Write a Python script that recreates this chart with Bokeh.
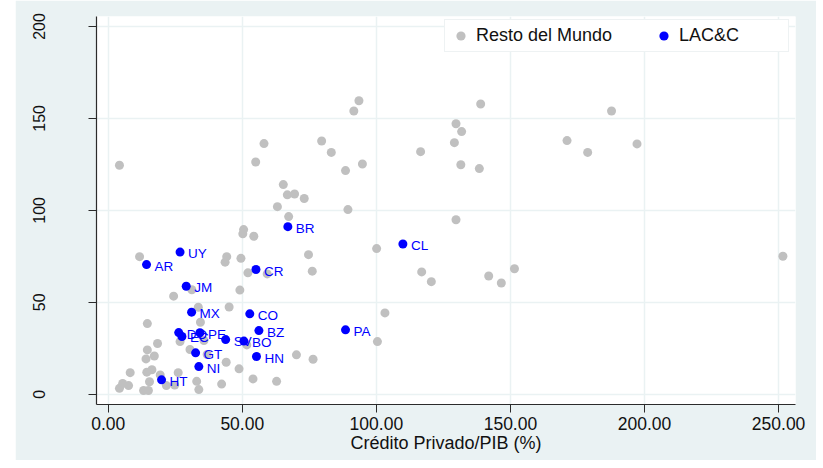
from bokeh.plotting import figure
from bokeh.models import (ColumnDataSource, LabelSet, Legend, LegendItem, FixedTicker,
                          PrintfTickFormatter, Range1d, Spacer)
from bokeh.core.properties import value
from bokeh.layouts import row
from bokeh.embed import file_html
from bokeh.resources import INLINE

# ---- data ----
rest_x = [4.2, 58.1, 55.0, 79.6, 83.2, 88.5, 94.8, 91.6, 93.5, 65.3, 66.8, 69.5, 73.1, 63.1,
          67.3, 89.4, 50.5, 50.2, 54.3, 116.5, 138.9, 129.7, 131.8, 129.1, 131.5, 138.4, 187.7,
          171.1, 178.8, 197.2, 129.7, 116.9, 120.5, 141.9, 146.6, 151.5, 251.6, 11.7, 44.2, 43.6,
          49.5, 74.7, 100.1, 52.1, 59.3, 76.1, 31.2, 24.4, 49.1, 103.2, 33.6, 45.1, 34.4, 14.6,
          100.4, 26.8, 18.4, 14.6, 17.2, 14.1, 30.5, 8.2, 14.4, 16.3, 19.4, 26.1, 5.4, 4.2, 7.6,
          13.2, 15.0, 15.4, 21.7, 24.8, 33.0, 33.8, 36.9, 44.0, 42.3, 48.8, 54.0, 62.8, 51.7,
          70.2, 76.4, 35.7]
rest_y = [124.5, 136.3, 126.3, 137.7, 131.5, 121.6, 125.2, 154.0, 159.6, 114.0, 108.4, 108.9,
          106.4, 102.0, 96.6, 100.4, 89.5, 87.2, 85.9, 131.9, 157.8, 147.1, 142.8, 136.8, 124.8,
          122.7, 154.0, 137.9, 131.5, 136.1, 94.9, 66.5, 61.2, 64.3, 60.5, 68.2, 75.0, 74.8, 74.8,
          71.8, 73.9, 75.9, 79.2, 66.0, 65.4, 66.9, 56.8, 53.3, 56.6, 44.2, 47.3, 47.4, 39.1, 38.4,
          28.6, 28.6, 27.6, 24.1, 20.8, 19.2, 24.3, 11.7, 12.0, 13.3, 10.5, 11.7, 5.8, 3.2, 4.7,
          2.0, 2.0, 6.8, 4.7, 5.0, 7.0, 2.5, 21.6, 17.4, 5.5, 13.8, 8.3, 7.0, 26.8, 21.4, 19.0,
          29.2]

lac_codes = ["BR", "CL", "UY", "AR", "CR", "JM", "MX", "CO", "DO", "PE", "EC", "BZ", "PA",
             "SV", "BO", "GT", "HN", "NI", "HT"]
lac_x = [67.0, 109.9, 26.8, 14.3, 55.1, 29.1, 31.1, 52.8, 26.3, 34.2, 27.5, 56.2, 88.5,
         43.8, 50.6, 32.6, 55.3, 33.8, 19.9]
lac_y = [91.1, 81.7, 77.3, 70.5, 67.8, 58.7, 44.6, 43.7, 33.5, 33.4, 31.4, 34.6, 35.0,
         29.7, 28.9, 22.5, 20.5, 15.0, 7.8]

x_ticks = [0, 50, 100, 150, 200, 250]
y_ticks = [0, 50, 100, 150, 200]
x_title = "Crédito Privado/PIB (%)"
legend_labels = ["Resto del Mundo", "LAC&C"]

BG = "#EAF2F3"
FONT = "Liberation Sans"

p = figure(width=801, height=460, output_backend="svg", toolbar_location=None,
           x_range=Range1d(-4.36, 256.3), y_range=Range1d(-5.6, 205.4),
           min_border_left=81, min_border_right=21, min_border_top=16, min_border_bottom=56)
p.background_fill_color = "white"
p.border_fill_color = BG
p.outline_line_color = None

r_rest = p.scatter(rest_x, rest_y, size=9, color="#C0C0C0", line_color=None)
lac_src = ColumnDataSource(dict(x=lac_x, y=lac_y, code=lac_codes))
r_lac = p.scatter("x", "y", source=lac_src, size=9, color="#0000FF", line_color=None)

labels = LabelSet(x="x", y="y", text="code", source=lac_src, x_offset=8, y_offset=-1.5,
                  text_color="#0000FF", text_font=value(FONT), text_font_size="13.5px",
                  text_baseline="middle", text_align="left")
p.add_layout(labels)

# axes
for ax in (p.xaxis, p.yaxis):
    ax.axis_line_color = "#2b2b2b"
    ax.axis_line_width = 1.2
    ax.major_tick_line_color = "#2b2b2b"
    ax.major_tick_out = 8
    ax.major_tick_in = 0
    ax.minor_tick_line_color = None
    ax.major_label_text_font = FONT
    ax.major_label_text_color = "#111111"

p.xaxis.ticker = FixedTicker(ticks=x_ticks)
p.xaxis.formatter = PrintfTickFormatter(format="%.2f")
p.xaxis.major_label_text_font_size = "17.5px"
p.xaxis.major_label_standoff = 4
p.xaxis.axis_label = x_title
p.xaxis.axis_label_text_font = FONT
p.xaxis.axis_label_text_font_size = "18px"
p.xaxis.axis_label_text_font_style = "normal"
p.xaxis.axis_label_text_color = "#111111"
p.xaxis.axis_label_standoff = 0

p.yaxis.ticker = FixedTicker(ticks=y_ticks)
p.yaxis.major_label_text_font_size = "16px"
p.yaxis.major_label_orientation = "vertical"
p.yaxis.major_label_standoff = 43

p.xgrid.ticker = FixedTicker(ticks=x_ticks)
p.ygrid.ticker = FixedTicker(ticks=y_ticks)
for g in (p.xgrid, p.ygrid):
    g.grid_line_color = BG
    g.grid_line_width = 1.5

legend = Legend(items=[LegendItem(label=legend_labels[0], renderers=[r_rest]),
                       LegendItem(label=legend_labels[1], renderers=[r_lac])],
                orientation="horizontal", location=(348, 352),
                padding=4, margin=0, spacing=40, glyph_width=23, glyph_height=23,
                label_standoff=4, label_width=105, label_height=23,
                label_text_font=FONT, label_text_font_size="18px",
                label_text_color="#111111",
                border_line_color="#DDE5E8", border_line_width=1,
                background_fill_color="white", background_fill_alpha=1.0)
p.add_layout(legend)

layout = row(Spacer(width=15, height=460), p)
open("out.html", "w").write(file_html(layout, INLINE))
